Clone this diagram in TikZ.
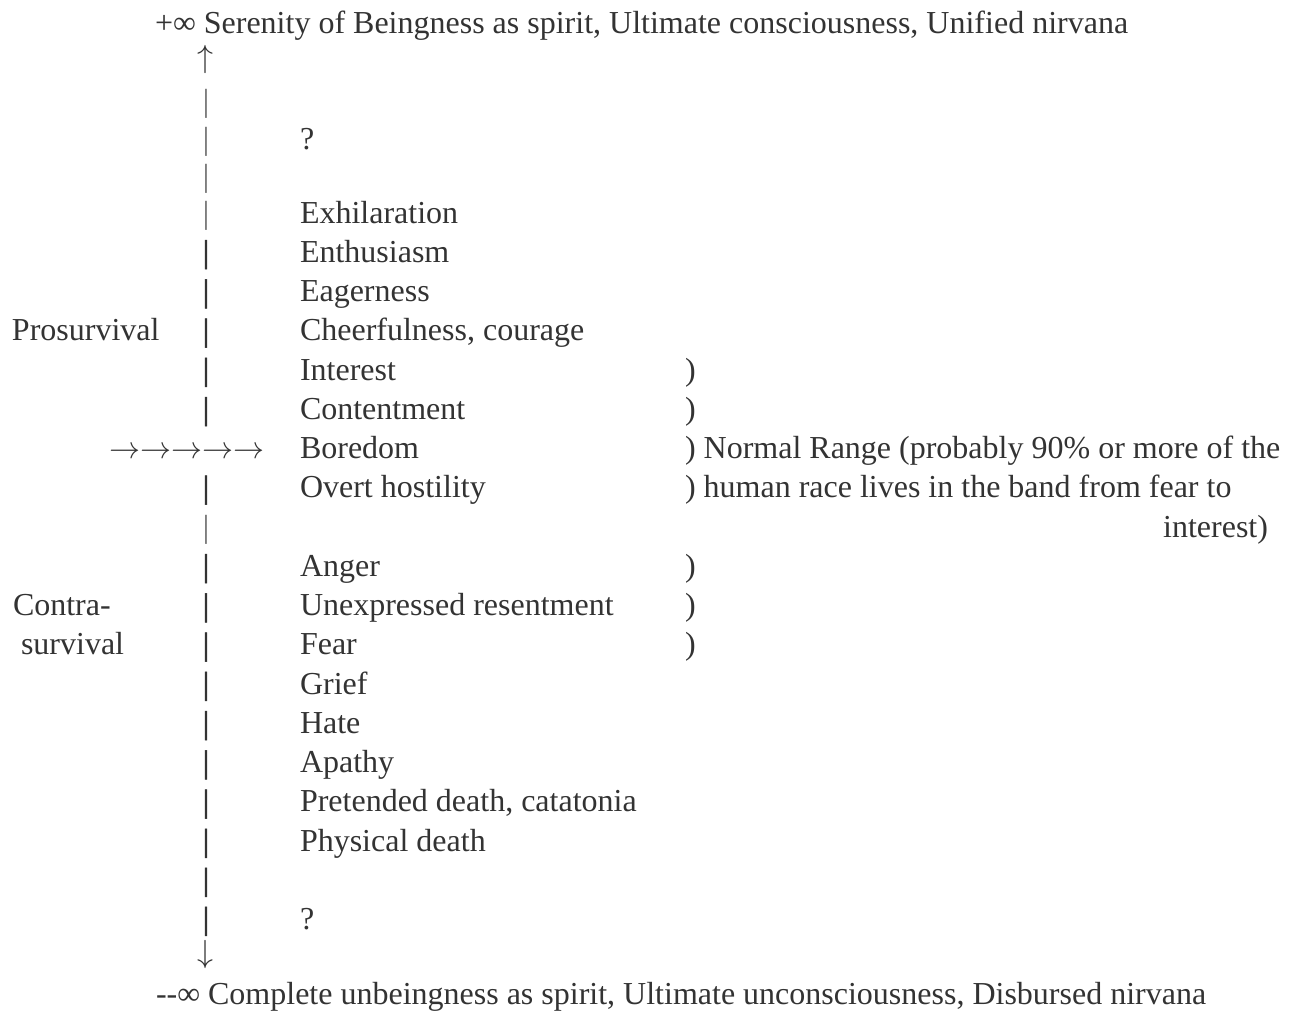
\documentclass[tikz,border=0pt]{standalone}
\usepackage{fontspec}
\setmainfont{Liberation Serif}
\newfontfamily\thickbarfont[FakeBold=1.5]{Liberation Serif}
\definecolor{ink}{HTML}{333333}
\tikzset{
  txt/.style={anchor=base west, inner sep=0pt, outer sep=0pt, text=ink, font=\fontsize{32}{38}\selectfont},
  thinbar/.style={anchor=base, inner sep=0pt, text=ink!75, font=\fontsize{32}{38}\selectfont, text height=22pt, text depth=5pt},
  thickbar/.style={anchor=base, inner sep=0pt, text=ink, font=\fontsize{32}{38}\selectfont\thickbarfont, text height=22pt, text depth=5pt},
  vmark/.style={anchor=base, inner sep=0pt, text=ink, text height=20pt, text depth=4pt},
  arrowrow/.style={anchor=base west, inner sep=0pt, text=ink},
}
\begin{document}
\begin{tikzpicture}[x=1pt,y=1pt]
\useasboundingbox (0,0) rectangle (1292,-1013);
% top and bottom
\node[txt] (top) at (155,-33) {+∞ Serenity of Beingness as spirit, Ultimate consciousness, Unified nirvana};
\node[vmark] (up) at (205,-67) {\scalebox{3.2}{$\uparrow$}};
\node[vmark] (down) at (205,-962) {\scalebox{3.2}{$\downarrow$}};
\node[txt] (bot) at (156,-1004) {-{}-∞ Complete unbeingness as spirit, Ultimate unconsciousness, Disbursed nirvana};
% bars
\node[thinbar] (b2) at (206,-111) {|};
\node[thinbar] (b3) at (206,-149) {|};
\node[thinbar] (b4) at (206,-186) {|};
\node[thinbar] (b5) at (206,-223) {|};
\node[thickbar] (b6) at (206,-262.25) {|};
\node[thickbar] (b7) at (206,-301.5) {|};
\node[thickbar] (b8) at (206,-340.75) {|};
\node[thickbar] (b9) at (206,-380) {|};
\node[thickbar] (b10) at (206,-419.25) {|};
\node[thickbar] (b12) at (206,-497.75) {|};
\node[thinbar] (b13) at (206,-537) {|};
\node[thickbar] (b14) at (206,-576.25) {|};
\node[thickbar] (b15) at (206,-615.5) {|};
\node[thickbar] (b16) at (206,-654.75) {|};
\node[thickbar] (b17) at (206,-694) {|};
\node[thickbar] (b18) at (206,-733.25) {|};
\node[thickbar] (b19) at (206,-772.5) {|};
\node[thickbar] (b20) at (206,-811.75) {|};
\node[thickbar] (b21) at (206,-851) {|};
\node[thickbar] (b22) at (206,-890) {|};
\node[thickbar] (b23) at (206,-929) {|};
% question marks
\node[txt] (q1) at (300,-149) {?};
\node[txt] (q2) at (300,-929) {?};
% side labels
\node[txt] (pro) at (12,-340.75) {Prosurvival};
\node[txt] (contra) at (13,-615.5) {Contra-};
\node[txt] (surv) at (21,-654.75) {survival};
\node[arrowrow] (arrows) at (109,-458.5) {\scalebox{3.1}{$\rightarrow\rightarrow\rightarrow\rightarrow\rightarrow$}};
% scale items
\node[txt] (e1) at (300,-223) {Exhilaration};
\node[txt] (e2) at (300,-262.25) {Enthusiasm};
\node[txt] (e3) at (300,-301.5) {Eagerness};
\node[txt] (e4) at (300,-340.75) {Cheerfulness, courage};
\node[txt] (e5) at (300,-380) {Interest};
\node[txt] (e6) at (300,-419.25) {Contentment};
\node[txt] (e7) at (300,-458.5) {Boredom};
\node[txt] (e8) at (300,-497.75) {Overt hostility};
\node[txt] (e9) at (300,-576.25) {Anger};
\node[txt] (e10) at (300,-615.5) {Unexpressed resentment};
\node[txt] (e11) at (300,-654.75) {Fear};
\node[txt] (e12) at (300,-694) {Grief};
\node[txt] (e13) at (300,-733.25) {Hate};
\node[txt] (e14) at (300,-772.5) {Apathy};
\node[txt] (e15) at (300,-811.75) {Pretended death, catatonia};
\node[txt] (e16) at (300,-851) {Physical death};
% brackets and normal range note
\node[txt] (p5) at (685,-380) {)};
\node[txt] (p6) at (685,-419.25) {)};
\node[txt] (p7) at (685,-458.5) {) Normal Range (probably 90\% or more of the};
\node[txt] (p8) at (685,-497.75) {) human race lives in the band from fear to};
\node[txt, anchor=base east] (p8b) at (1268,-537) {interest)};
\node[txt] (p9) at (685,-576.25) {)};
\node[txt] (p10) at (685,-615.5) {)};
\node[txt] (p11) at (685,-654.75) {)};
\end{tikzpicture}
\end{document}
